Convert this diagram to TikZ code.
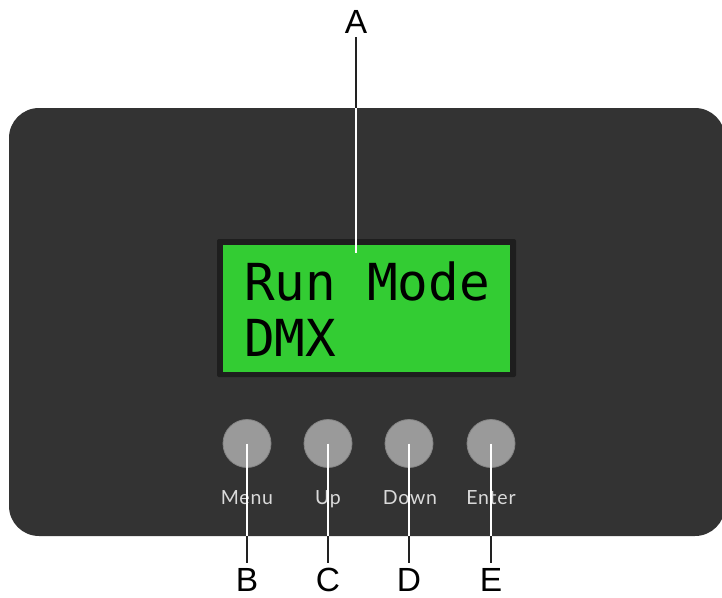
\documentclass[tikz,border=0pt]{standalone}
\usepackage{fontspec}
\setmainfont{Liberation Sans}
\newfontfamily\lcdfont{DejaVu Sans Mono}
\newfontfamily\btnfont[LetterSpace=4]{Lato}
\definecolor{panel}{HTML}{333333}
\definecolor{lcdborder}{HTML}{1E1E1E}
\definecolor{lcdgreen}{HTML}{33CC33}
\definecolor{btn}{HTML}{9A9A9A}
\definecolor{btnlabel}{HTML}{DADADA}
\definecolor{leader}{HTML}{222222}
\begin{document}
\begin{tikzpicture}[x=1pt,y=-1pt,
  btnstyle/.style={circle,fill=btn,draw=btn!85!black,line width=0.8pt,minimum size=48pt,inner sep=0pt},
  btntext/.style={font=\btnfont\fontsize{19.5}{19.5}\selectfont,text=btnlabel,anchor=base,inner sep=0pt},
  letter/.style={font=\fontsize{33.5}{33.5}\selectfont,anchor=base,inner sep=0pt},
  lcdtext/.style={font=\lcdfont\fontsize{51}{51}\selectfont,anchor=base west,inner sep=0pt},
  wline/.style={white,line width=2pt},
  bline/.style={leader,line width=2pt}]
\useasboundingbox (0,0) rectangle (722,597);
% panel
\fill[panel,rounded corners=30pt] (9,108) rectangle (725,536);
% LCD
\fill[lcdborder,rounded corners=2pt] (217,239) rectangle (516,377);
\fill[lcdgreen] (223,245) rectangle (510,372);
\node[lcdtext] (l1) at (244,300) {Run Mode};
\node[lcdtext] (l2) at (244,356) {DMX};
% buttons
\node[btnstyle] (bm) at (247,443.5) {};
\node[btnstyle] (bu) at (328,443.5) {};
\node[btnstyle] (bd) at (409,443.5) {};
\node[btnstyle] (be) at (491,443.5) {};
\node[btntext] (tm) at (247,504) {Menu};
\node[btntext] (tu) at (328,504) {Up};
\node[btntext] (td) at (410,504) {Down};
\node[btntext] (te) at (491,504) {Enter};
% letters
\node[letter] (A) at (356,33) {A};
\node[letter] (B) at (247,591) {B};
\node[letter] (C) at (328,591) {C};
\node[letter] (D) at (409,591) {D};
\node[letter] (E) at (491,591) {E};
% leader lines
\coordinate (atop) at (356,37);
\coordinate (aedge) at (356,108);
\coordinate (aend) at (356,253);
\draw[bline] (atop) -- (aedge);
\draw[wline] (aedge) -- (aend);
\foreach \n/\x in {bm/247,bu/328,bd/409,be/491}{
  \draw[wline] (\n.center) -- (\x,536);
  \draw[bline] (\x,536) -- (\x,563);
}
\end{tikzpicture}
\end{document}
